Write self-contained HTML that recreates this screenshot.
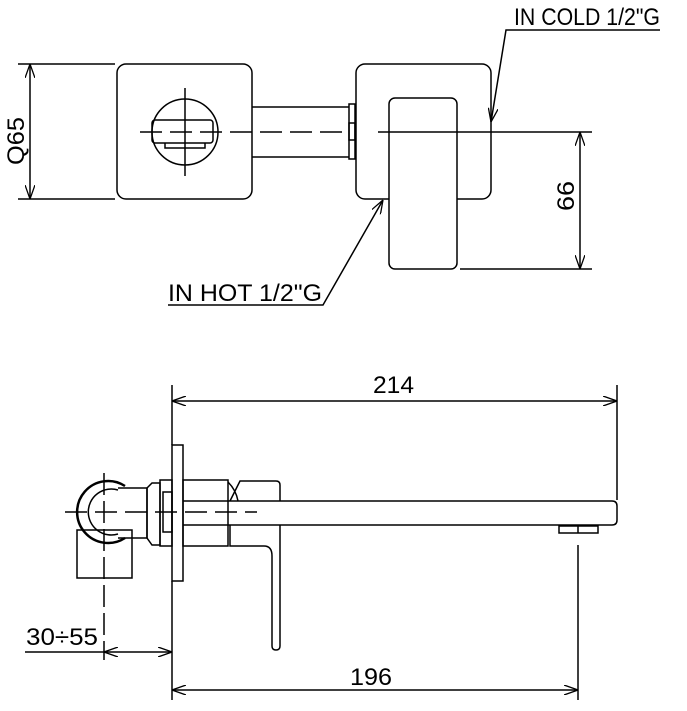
<!DOCTYPE html><html><head><style>body{margin:0;background:#fff}svg{display:block}text{font-family:"Liberation Sans",sans-serif;font-size:24px;fill:#000}</style></head><body>
<svg width="687" height="711" viewBox="0 0 687 711" fill="none" stroke="#000" stroke-width="1.5">
<defs><marker id="a" viewBox="0 0 14 10" refX="14" refY="5" markerWidth="14" markerHeight="10" orient="auto-start-reverse" markerUnits="userSpaceOnUse"><path d="M0 0L14 5L0 10" fill="none" stroke="#000" stroke-width="1.3"/></marker></defs>
<line x1="18" y1="64" x2="115" y2="64"/><line x1="18" y1="199" x2="115" y2="199"/>
<line x1="30" y1="64" x2="30" y2="199" marker-start="url(#a)" marker-end="url(#a)"/>
<text transform="translate(24,141) rotate(-90)" x="-24" textLength="48" lengthAdjust="spacingAndGlyphs" stroke="none">Q65</text>
<rect x="117" y="64" width="135" height="135" rx="9"/>
<circle cx="185" cy="132" r="33"/>
<rect x="152" y="120" width="61" height="23" rx="3"/>
<path d="M165 143v5h40v-5"/>
<line x1="185" y1="88" x2="185" y2="176"/>
<line x1="140" y1="132" x2="350" y2="132" stroke-dasharray="22,8"/>
<path d="M252 107H349M252 157H349"/>
<rect x="349" y="104" width="6" height="55"/>
<rect x="349" y="123" width="6" height="17"/>
<rect x="356" y="64" width="135" height="135" rx="9"/>
<rect x="389" y="98" width="68" height="171" rx="6" fill="#fff"/>
<line x1="378" y1="132" x2="592" y2="132"/>
<line x1="460" y1="269" x2="592" y2="269"/>
<line x1="580" y1="132" x2="580" y2="269" marker-start="url(#a)" marker-end="url(#a)"/>
<text transform="translate(574,196) rotate(-90)" x="-15" textLength="30" lengthAdjust="spacingAndGlyphs" stroke="none">66</text>
<polyline points="660,30 506,30 491,122" marker-end="url(#a)"/>
<text x="514" y="25" textLength="146" lengthAdjust="spacingAndGlyphs" stroke="none">IN COLD 1/2"G</text>
<polyline points="168,305 323,305 383,200" marker-end="url(#a)"/>
<text x="168" y="301" textLength="154" lengthAdjust="spacingAndGlyphs" stroke="none">IN HOT 1/2"G</text>
<line x1="172" y1="385" x2="172" y2="445"/><line x1="617" y1="385" x2="617" y2="500"/>
<line x1="172" y1="401" x2="617" y2="401" marker-start="url(#a)" marker-end="url(#a)"/>
<text x="373" y="393" textLength="41" lengthAdjust="spacingAndGlyphs" stroke="none">214</text>
<rect x="172" y="445" width="11" height="136"/>
<line x1="172" y1="581" x2="172" y2="700"/>
<path d="M125 486A31 31 0 1 0 125 538" stroke-width="2.5"/>
<path d="M118 490A23 23 0 1 0 118 534"/>
<rect x="77" y="530" width="55" height="48"/>
<path d="M118 488H147V538H118"/>
<path d="M147 488L152 483H160V545H152L147 538Z"/>
<rect x="160" y="480" width="12" height="66"/>
<rect x="163" y="492" width="9" height="40"/>
<line x1="104" y1="473" x2="104" y2="660" stroke-dasharray="22,6"/>
<line x1="65" y1="512" x2="257" y2="512" stroke-dasharray="22,8"/>
<rect x="183" y="480" width="45" height="66"/>
<path d="M183 501H612Q617 501 617 506V520Q617 525 612 525H183"/>
<path d="M230 501L240 481H276Q280 481 280 485V501"/>
<path d="M228 482Q236 490 238 501"/>
<path d="M230 525V546H264Q272 546 272 556V646Q272 650 276 650Q280 650 280 646V525"/>
<path d="M559 526H598V533H559Z"/><line x1="578" y1="526" x2="578" y2="533"/>
<line x1="578" y1="545" x2="578" y2="700"/>
<line x1="172" y1="690" x2="578" y2="690" marker-start="url(#a)" marker-end="url(#a)"/>
<text x="350" y="685" textLength="42" lengthAdjust="spacingAndGlyphs" stroke="none">196</text>
<line x1="104" y1="652" x2="172" y2="652" marker-start="url(#a)" marker-end="url(#a)"/>
<line x1="25" y1="652" x2="104" y2="652"/>
<text x="26" y="645" textLength="72" lengthAdjust="spacingAndGlyphs" stroke="none">30÷55</text>
</svg></body></html>
